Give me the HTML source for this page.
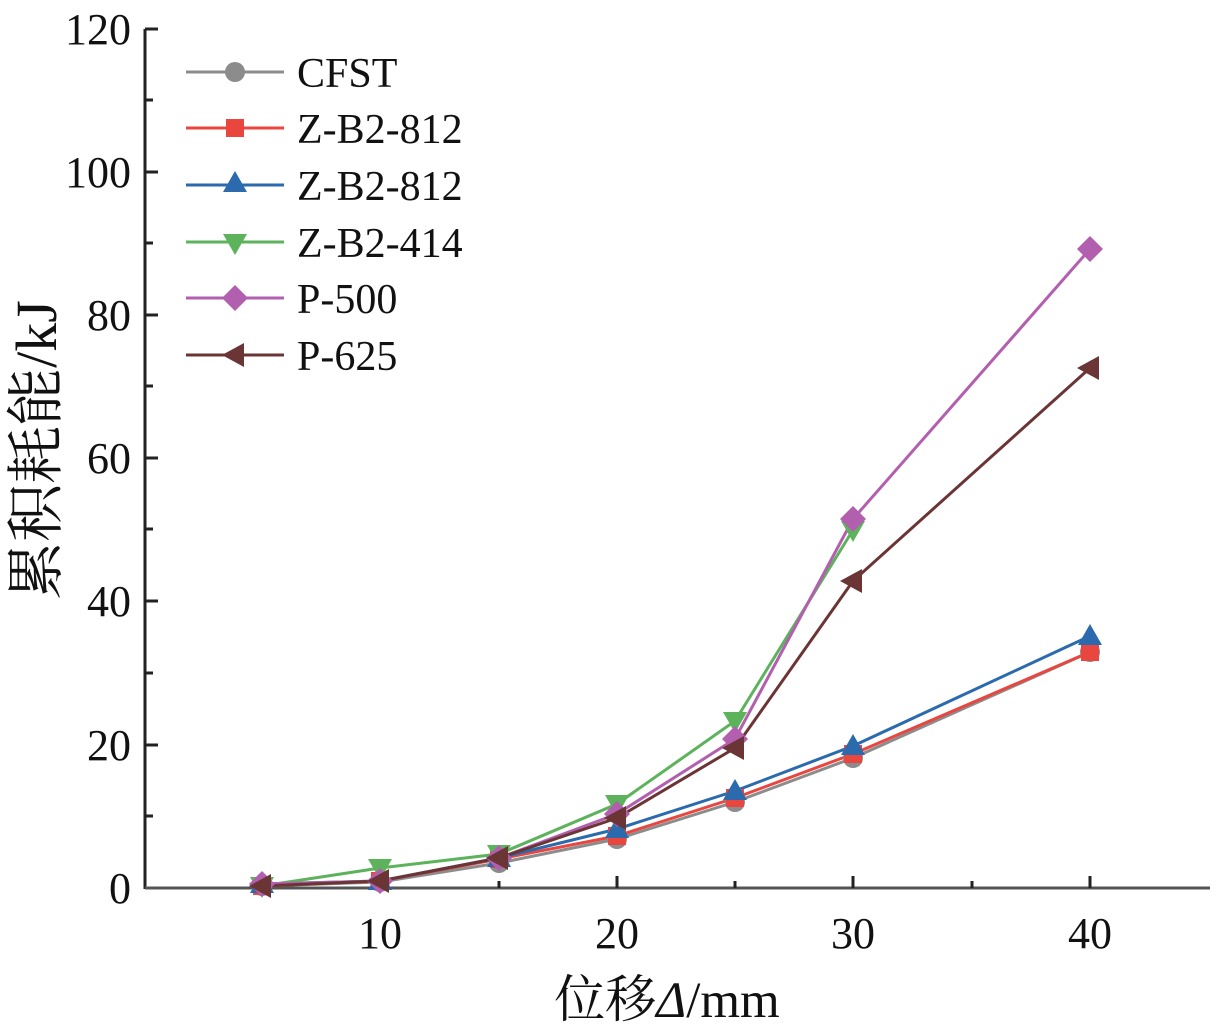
<!DOCTYPE html>
<html><head><meta charset="utf-8"><style>
html,body{margin:0;padding:0;background:#fff;}
svg{display:block;}
text{font-family:"Liberation Serif","Noto Serif CJK SC",serif;fill:#111;}
</style></head><body>
<svg width="1221" height="1033" viewBox="0 0 1221 1033" xmlns="http://www.w3.org/2000/svg">
<defs>
<circle id="mc" r="10" fill="#8c8c8c"/>
<rect id="ms" x="-9" y="-9" width="18" height="18" fill="#e8463f"/>
<polygon id="mu" points="0,-12 12,9 -12,9" fill="#2a6aad"/>
<polygon id="md" points="0,12 12,-9 -12,-9" fill="#5cb35c"/>
<polygon id="mdi" points="0,-13 13,0 0,13 -13,0" fill="#b35fb0"/>
<polygon id="ml" points="-13,0 9,-12 9,12" fill="#6b3535"/>
</defs>
<g stroke="#222" stroke-width="3" fill="none">
<line x1="145" y1="29" x2="145" y2="889"/>
<line x1="145" y1="888" x2="1210" y2="888" stroke="#555"/>
</g>
<g stroke="#222" stroke-width="3">
<line x1="145" y1="29" x2="158" y2="29"/>
<line x1="145" y1="100" x2="153" y2="100"/>
<line x1="145" y1="172" x2="158" y2="172"/>
<line x1="145" y1="243" x2="153" y2="243"/>
<line x1="145" y1="315" x2="158" y2="315"/>
<line x1="145" y1="386" x2="153" y2="386"/>
<line x1="145" y1="458" x2="158" y2="458"/>
<line x1="145" y1="529" x2="153" y2="529"/>
<line x1="145" y1="601" x2="158" y2="601"/>
<line x1="145" y1="673" x2="153" y2="673"/>
<line x1="145" y1="745" x2="158" y2="745"/>
<line x1="145" y1="816" x2="153" y2="816"/>
<line x1="262" y1="888" x2="262" y2="881"/>
<line x1="380" y1="888" x2="380" y2="876"/>
<line x1="499" y1="888" x2="499" y2="881"/>
<line x1="617" y1="888" x2="617" y2="876"/>
<line x1="735" y1="888" x2="735" y2="881"/>
<line x1="853" y1="888" x2="853" y2="876"/>
<line x1="972" y1="888" x2="972" y2="881"/>
<line x1="1090" y1="888" x2="1090" y2="876"/>
</g>
<g font-size="44" text-anchor="end">
<text x="131" y="44">120</text>
<text x="131" y="187">100</text>
<text x="131" y="330">80</text>
<text x="131" y="473">60</text>
<text x="131" y="616">40</text>
<text x="131" y="760">20</text>
<text x="131" y="903">0</text>
</g>
<g font-size="44" text-anchor="middle">
<text x="380" y="948">10</text>
<text x="617" y="948">20</text>
<text x="853" y="948">30</text>
<text x="1090" y="948">40</text>
</g>
<text x="667" y="1017" font-size="51" text-anchor="middle">位移<tspan font-style="italic">Δ</tspan>/mm</text>
<text transform="translate(56,450) rotate(-90)" font-size="58" text-anchor="middle">累积耗能/kJ</text>
<g fill="none" stroke-width="3">
<polyline stroke="#8c8c8c" points="262,886 380,882 499,863 617,839 735,802 853,758 1090,652"/>
<polyline stroke="#e8463f" points="262,886 380,881 499,859 617,836 735,798 853,754 1090,652"/>
<polyline stroke="#2a6aad" points="262,884 380,881 499,858 617,829 735,791 853,746 1090,636"/>
<polyline stroke="#5cb35c" points="262,886 380,868 499,854 617,804 735,721 853,530"/>
<polyline stroke="#b35fb0" points="262,884 380,881 499,858 617,814 735,739 853,519 1090,249"/>
<polyline stroke="#6b3535" points="262,886 380,881 499,858 617,818 735,748 853,581 1090,368"/>
</g>
<g>
<use href="#mc" x="262" y="886"/><use href="#mc" x="380" y="882"/><use href="#mc" x="499" y="863"/><use href="#mc" x="617" y="839"/><use href="#mc" x="735" y="802"/><use href="#mc" x="853" y="758"/><use href="#mc" x="1090" y="652"/>
<use href="#ms" x="262" y="886"/><use href="#ms" x="380" y="881"/><use href="#ms" x="499" y="859"/><use href="#ms" x="617" y="836"/><use href="#ms" x="735" y="798"/><use href="#ms" x="853" y="754"/><use href="#ms" x="1090" y="652"/>
<use href="#mu" x="262" y="884"/><use href="#mu" x="380" y="881"/><use href="#mu" x="499" y="858"/><use href="#mu" x="617" y="829"/><use href="#mu" x="735" y="791"/><use href="#mu" x="853" y="746"/><use href="#mu" x="1090" y="636"/>
<use href="#md" x="262" y="886"/><use href="#md" x="380" y="868"/><use href="#md" x="499" y="854"/><use href="#md" x="617" y="804"/><use href="#md" x="735" y="721"/><use href="#md" x="853" y="530"/>
<use href="#mdi" x="262" y="884"/><use href="#mdi" x="380" y="881"/><use href="#mdi" x="499" y="858"/><use href="#mdi" x="617" y="814"/><use href="#mdi" x="735" y="739"/><use href="#mdi" x="853" y="519"/><use href="#mdi" x="1090" y="249"/>
<use href="#ml" x="262" y="886"/><use href="#ml" x="380" y="881"/><use href="#ml" x="499" y="858"/><use href="#ml" x="617" y="818"/><use href="#ml" x="735" y="748"/><use href="#ml" x="853" y="581"/><use href="#ml" x="1090" y="368"/>
</g>
<g stroke-width="3">
<line x1="186" y1="72" x2="284" y2="72" stroke="#8c8c8c"/>
<line x1="186" y1="128" x2="284" y2="128" stroke="#e8463f"/>
<line x1="186" y1="185" x2="284" y2="185" stroke="#2a6aad"/>
<line x1="186" y1="242" x2="284" y2="242" stroke="#5cb35c"/>
<line x1="186" y1="298" x2="284" y2="298" stroke="#b35fb0"/>
<line x1="186" y1="355" x2="284" y2="355" stroke="#6b3535"/>
</g>
<use href="#mc" x="235" y="72"/><use href="#ms" x="235" y="128"/><use href="#mu" x="235" y="183"/><use href="#md" x="235" y="243"/><use href="#mdi" x="235" y="298"/><use href="#ml" x="235" y="355"/>
<g font-size="42">
<text x="297" y="87">CFST</text>
<text x="297" y="143">Z-B2-812</text>
<text x="297" y="200">Z-B2-812</text>
<text x="297" y="257">Z-B2-414</text>
<text x="297" y="313">P-500</text>
<text x="297" y="370">P-625</text>
</g>
</svg>
</body></html>
